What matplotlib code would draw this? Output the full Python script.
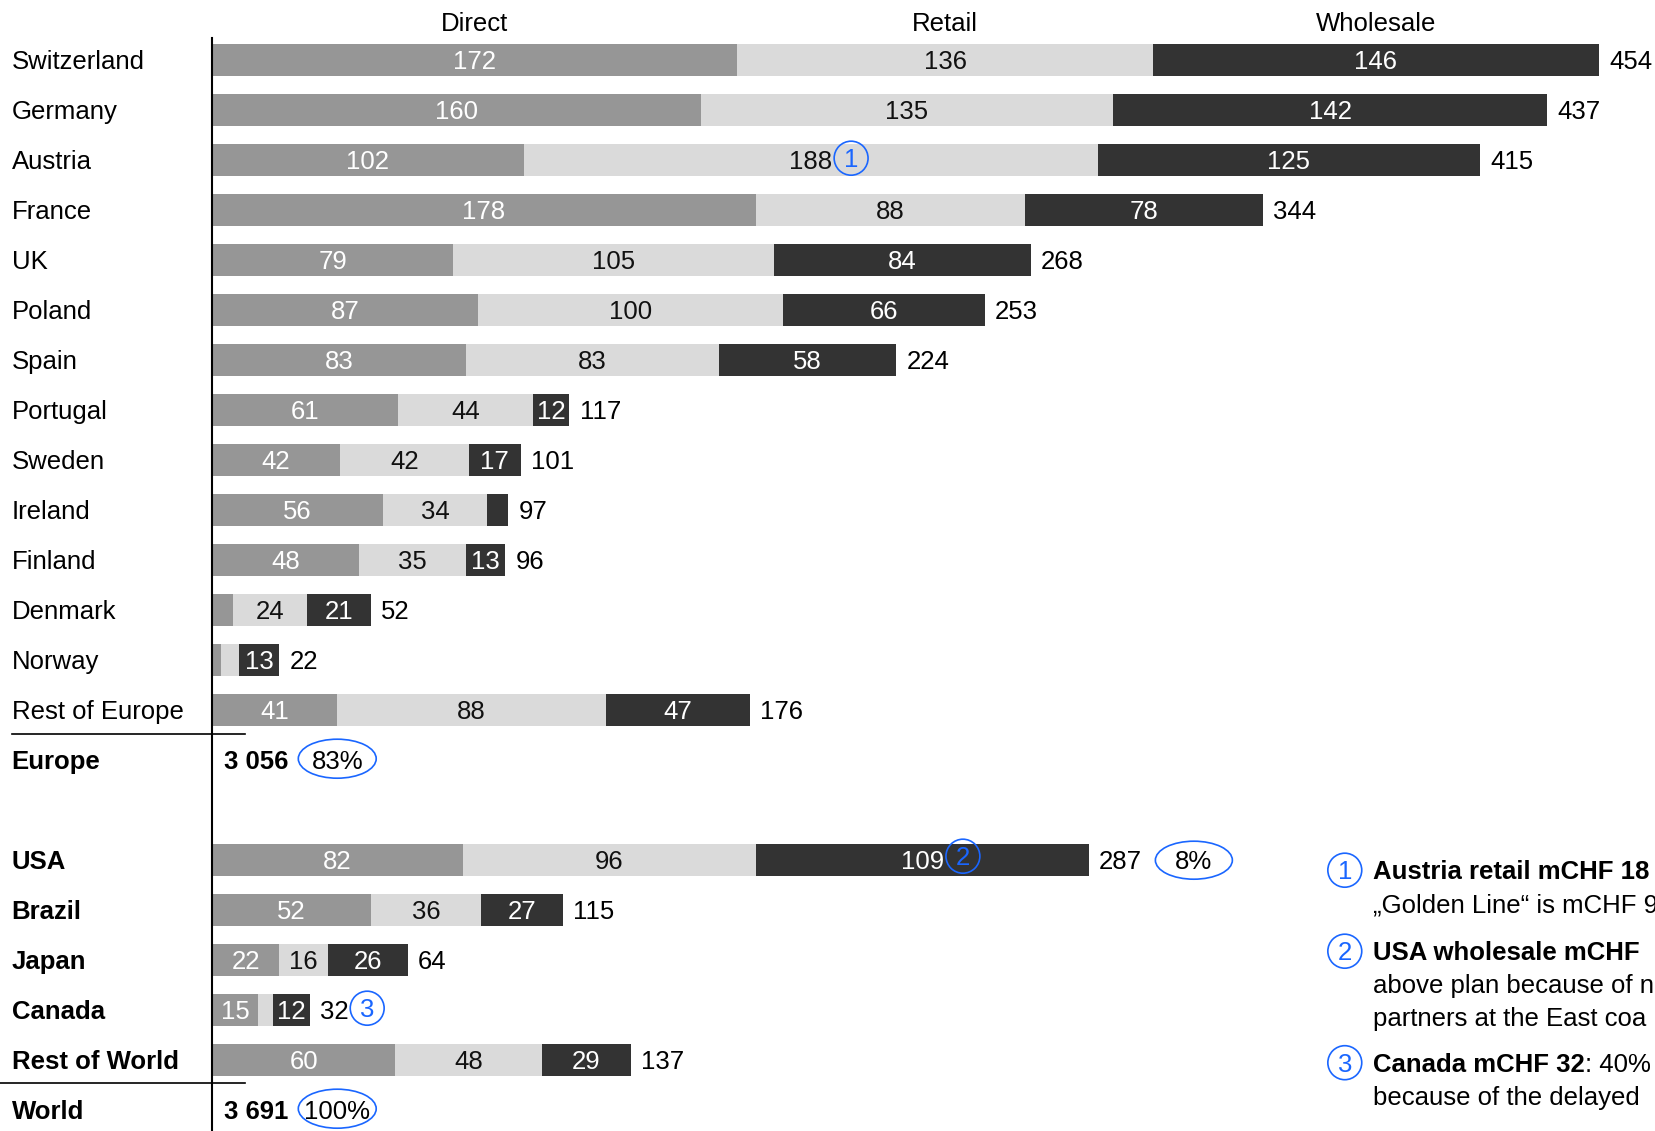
import matplotlib.pyplot as plt
from matplotlib.patches import Ellipse
import numpy as np

plt.rcParams['font.family'] = ['Liberation Sans', 'DejaVu Sans']

countries = ["Switzerland", "Germany", "Austria", "France", "UK", "Poland", "Spain",
             "Portugal", "Sweden", "Ireland", "Finland", "Denmark", "Norway",
             "Rest of Europe", "USA", "Brazil", "Japan", "Canada", "Rest of World"]
direct = [172, 160, 102, 178, 79, 87, 83, 61, 42, 56, 48, 7, 3, 41, 82, 52, 22, 15, 60]
retail = [136, 135, 188, 88, 105, 100, 83, 44, 42, 34, 35, 24, 6, 88, 96, 36, 16, 5, 48]
wholesale = [146, 142, 125, 78, 84, 66, 58, 12, 17, 7, 13, 21, 13, 47, 109, 27, 26, 12, 29]
channels = ["Direct", "Retail", "Wholesale"]
n_europe = 14

# side notes, cut at the right edge as in the original slide
notes = [
    ("Austria retail mCHF 18", "", ["„Golden Line“ is mCHF 9"]),
    ("USA wholesale mCHF", "", ["above plan because of n", "partners at the East coa"]),
    ("Canada mCHF 32", ": 40%", ["because of the delayed"]),
]

FS = 18.5
DY = 0.045  # small baseline nudge for text
BLUE = '#1a66ff'
colors = ['#969696', '#dadada', '#333333']
txtcol = ['white', '#111111', 'white']

fig = plt.figure(figsize=(16.55, 11.31), dpi=100)
ax = fig.add_axes([0, 0, 1, 1])
ax.axis('off')
ppu = 3.055  # pixels per unit
ax.set_xlim(-212 / ppu, (1655 - 212) / ppu)
ax.set_ylim((1131 - 60.2) / 50, -60.2 / 50)

rows = np.r_[0:n_europe, n_europe + 2:n_europe + 2 + len(countries) - n_europe]
data = np.array([direct, retail, wholesale])
totals = data.sum(axis=0)
europe_total = totals[:n_europe].sum()
world_total = totals.sum()

left = np.zeros(len(countries))
for k in range(3):
    ax.barh(rows, data[k], left=left, height=0.64, color=colors[k], linewidth=0)
    for r, l, v in zip(rows, left, data[k]):
        if v >= 10:
            ax.text(l + v / 2, r + DY, str(v), ha='center', va='center', color=txtcol[k], fontsize=FS)
    # header centered over first row
    ax.text(left[0] + data[k][0] / 2, -0.76 + DY, channels[k], ha='center', va='center', fontsize=FS)
    left = left + data[k]

for r, t in zip(rows, totals):
    ax.text(t + 3.3, r + DY, str(t), ha='left', va='center', fontsize=FS)

for i, (r, name) in enumerate(zip(rows, countries)):
    ax.text(-65.6, r + DY, name, ha='left', va='center', fontsize=FS,
            fontweight='bold' if i >= n_europe else 'normal')

def fmt(v):
    return f"{v:,}".replace(",", " ")

world_row = rows[-1] + 1
for r, name, tot in [(n_europe, "Europe", europe_total), (world_row, "World", world_total)]:
    ax.text(-65.6, r + DY, name, ha='left', va='center', fontsize=FS, fontweight='bold')
    ax.text(3.8, r + DY, fmt(tot), ha='left', va='center', fontsize=FS, fontweight='bold')
    pct = round(100 * tot / world_total)
    ax.add_patch(Ellipse((41.0, r - 0.03), 25.5, 0.78, fill=False, ec=BLUE, lw=1.2))
    ax.text(41.0, r + DY, f"{pct}%", ha='center', va='center', fontsize=FS)

# USA share
usa = n_europe
ax.add_patch(Ellipse((321.4, rows[usa]), 25.2, 0.76, fill=False, ec=BLUE, lw=1.2))
ax.text(321.4, rows[usa] + DY, f"{round(100 * totals[usa] / world_total)}%", ha='center', va='center', fontsize=FS)

# axis lines
ax.plot([0, 0], [-0.45, 30], color='black', lw=1.5, clip_on=False)
ax.plot([-65.6, 10.8], [n_europe - 0.53, n_europe - 0.53], color='black', lw=1.2)
ax.plot([-70, 10.8], [world_row - 0.55, world_row - 0.55], color='black', lw=1.2)

def marker(x, y, s):
    ax.add_patch(Ellipse((x, y), 11.1, 0.68, fill=False, ec=BLUE, lw=1.2))
    ax.text(x, y + DY, s, ha='center', va='center', color=BLUE, fontsize=FS)

marker(209.2, 1.96, "1")
marker(245.8, 15.92, "2")
marker(50.8, 18.96, "3")

note_y = [16.2, 17.82, 20.05]
for i, ((bold, rest, lines), y) in enumerate(zip(notes, note_y)):
    marker(370.8, y, str(i + 1))
    t = ax.text(380, y + DY, bold, ha='left', va='center', fontsize=FS, fontweight='bold')
    if rest:
        ax.annotate(rest, xy=(1, 0), xycoords=t, ha='left', va='bottom', fontsize=FS)
    for j, line in enumerate(lines):
        ax.text(380, y + DY + 0.654 * (j + 1), line, ha='left', va='center', fontsize=FS)

fig.savefig('out.png', dpi=100)
